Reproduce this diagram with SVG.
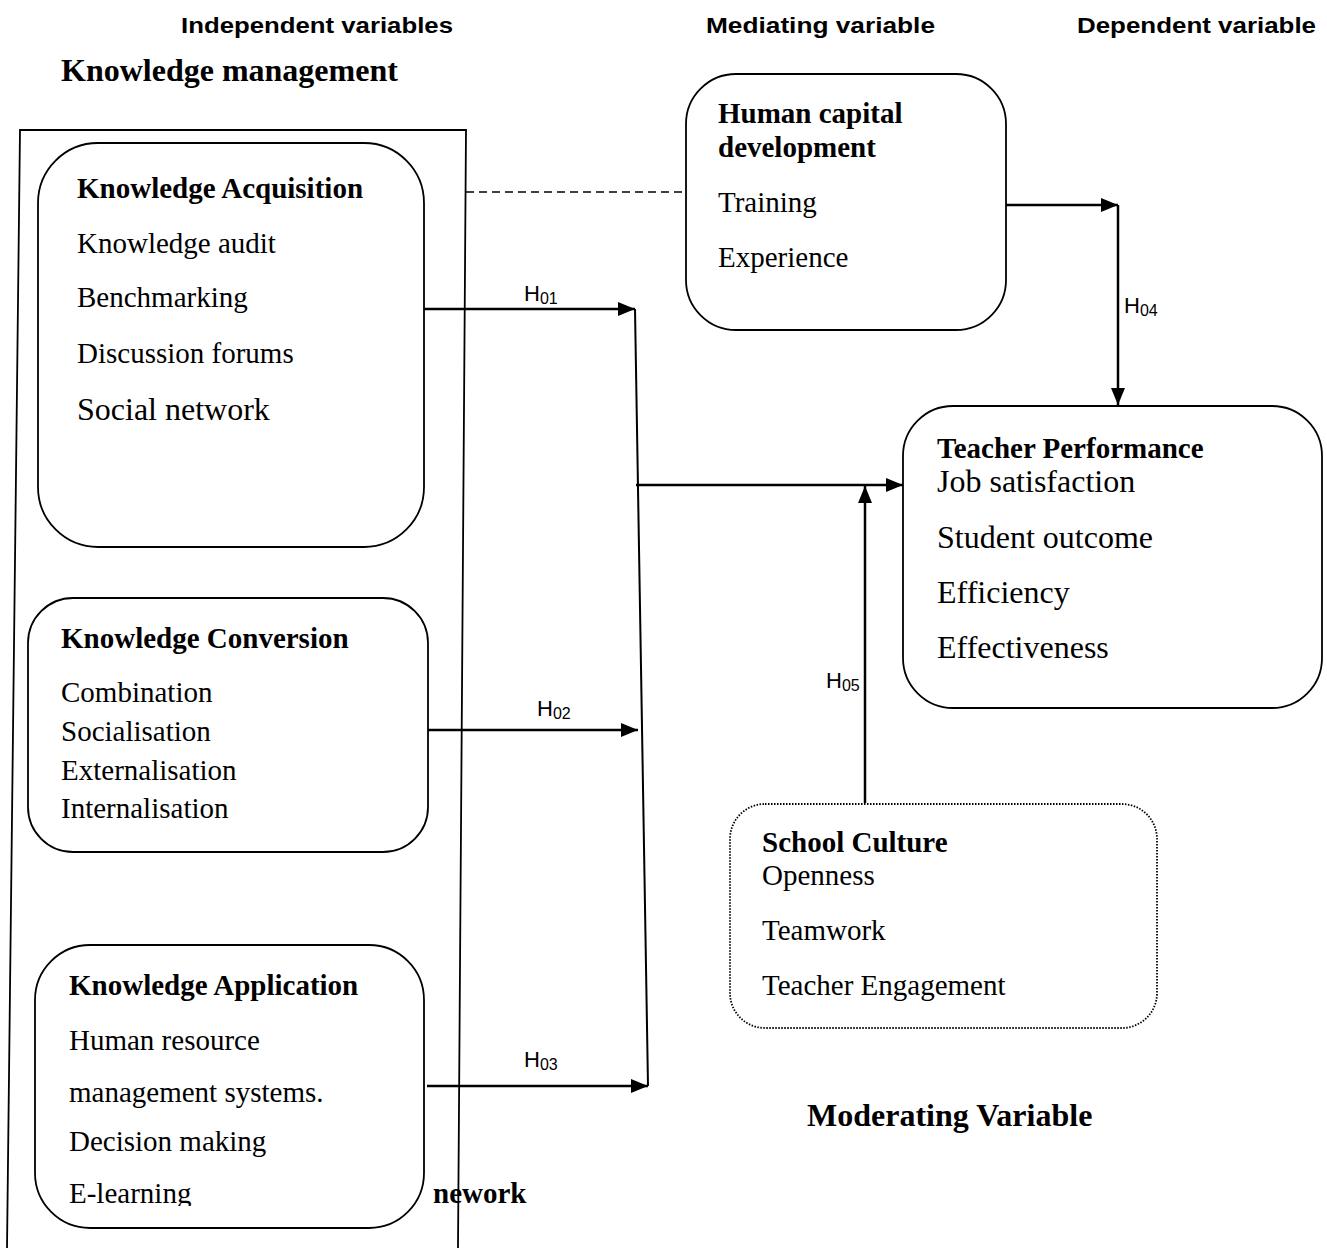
<svg xmlns="http://www.w3.org/2000/svg" width="1327" height="1250" viewBox="0 0 1327 1250">
<style>
.t{font-family:"Liberation Serif","Times New Roman",serif;font-size:29px;fill:#000}
.b{font-weight:bold}
.h{font-family:"Liberation Sans",Arial,sans-serif;font-weight:bold;font-size:22px;fill:#000}
.lab{font-family:"Liberation Sans",Arial,sans-serif;font-size:22px;fill:#000}
.sub{font-size:16px}
.box{fill:#fff;stroke:#000;stroke-width:1.8}
.dot{fill:#fff;stroke:#000;stroke-width:1.8;stroke-dasharray:1.5 1.5}
.frame{fill:none;stroke:#000;stroke-width:1.8}
.con{fill:none;stroke:#000;stroke-width:2.5}
.dash{fill:none;stroke:#000;stroke-width:1.5;stroke-dasharray:8 5}
</style>
<defs>
<marker id="ah" markerUnits="userSpaceOnUse" markerWidth="18" markerHeight="16" refX="17" refY="7" orient="auto">
<path d="M0,0 L17,7 L0,14 z" fill="#000"/>
</marker>
<clipPath id="clipA"><rect x="0" y="930" width="470" height="276"/></clipPath>
</defs>

<g id="headers">
<text class="h" x="181" y="33" textLength="272" lengthAdjust="spacingAndGlyphs">Independent variables</text>
<text class="h" x="706" y="33" textLength="229" lengthAdjust="spacingAndGlyphs">Mediating variable</text>
<text class="h" x="1077" y="33" textLength="239" lengthAdjust="spacingAndGlyphs">Dependent variable</text>
<text class="t b" x="61" y="81" style="font-size:32px">Knowledge management</text>
<text class="t b" x="807" y="1126" style="font-size:32px">Moderating Variable</text>
<text class="t b" x="433" y="1203">nework</text>
</g>

<g id="km-frame">
<path class="frame" d="M7,1248 L20,130 L466,130 L458,1248"/>
</g>

<g id="connectors">
<path class="dash" d="M466,192 L683,192"/>
<path class="con" d="M424,309 L635,309" marker-end="url(#ah)"/>
<path class="con" d="M428,730 L638,730" marker-end="url(#ah)"/>
<path class="con" d="M427,1086 L648,1086" marker-end="url(#ah)"/>
<path class="con" style="stroke-width:2" d="M635,309 L648,1086"/>
<path class="con" d="M636,485 L903,485" marker-end="url(#ah)"/>
<path class="con" d="M865,803 L865,486" marker-end="url(#ah)"/>
<path class="con" d="M1005,205 L1118,205" marker-end="url(#ah)"/>
<path class="con" d="M1118,205 L1118,405" marker-end="url(#ah)"/>
<text class="lab" x="524" y="301">H<tspan class="sub" dy="3">01</tspan></text>
<text class="lab" x="537" y="716">H<tspan class="sub" dy="3">02</tspan></text>
<text class="lab" x="524" y="1067">H<tspan class="sub" dy="3">03</tspan></text>
<text class="lab" x="1124" y="313">H<tspan class="sub" dy="3">04</tspan></text>
<text class="lab" x="826" y="688">H<tspan class="sub" dy="3">05</tspan></text>
</g>

<g id="knowledge-acquisition">
<rect class="box" x="38" y="143" width="386" height="404" rx="60" ry="60"/>
<text class="t b" x="77" y="198">Knowledge Acquisition</text>
<text class="t" x="77" y="253">Knowledge audit</text>
<text class="t" x="77" y="307">Benchmarking</text>
<text class="t" x="77" y="363">Discussion forums</text>
<text class="t" x="77" y="420" style="font-size:32px">Social network</text>
</g>

<g id="knowledge-conversion">
<rect class="box" x="28" y="598" width="400" height="254" rx="45" ry="45"/>
<text class="t b" x="61" y="648">Knowledge Conversion</text>
<text class="t" x="61" y="702">Combination</text>
<text class="t" x="61" y="741">Socialisation</text>
<text class="t" x="61" y="780">Externalisation</text>
<text class="t" x="61" y="818">Internalisation</text>
</g>

<g id="knowledge-application">
<rect class="box" x="35" y="945" width="389" height="283" rx="55" ry="55"/>
<text class="t b" x="69" y="995">Knowledge Application</text>
<text class="t" x="69" y="1050">Human resource</text>
<text class="t" x="69" y="1102">management systems.</text>
<text class="t" x="69" y="1151">Decision making</text>
<text class="t" x="69" y="1203" clip-path="url(#clipA)">E-learning</text>
</g>

<g id="human-capital">
<rect class="box" x="686" y="74" width="320" height="256" rx="50" ry="50"/>
<text class="t b" x="718" y="123">Human capital</text>
<text class="t b" x="718" y="157">development</text>
<text class="t" x="718" y="212">Training</text>
<text class="t" x="718" y="267">Experience</text>
</g>

<g id="teacher-performance">
<rect class="box" x="903" y="406" width="419" height="302" rx="50" ry="50"/>
<text class="t b" x="937" y="458">Teacher Performance</text>
<text class="t" x="937" y="492" style="font-size:32px">Job satisfaction</text>
<text class="t" x="937" y="548" style="font-size:32px">Student outcome</text>
<text class="t" x="937" y="603" style="font-size:32px">Efficiency</text>
<text class="t" x="937" y="658" style="font-size:32px">Effectiveness</text>
</g>

<g id="school-culture">
<rect class="dot" x="730" y="804" width="427" height="224" rx="35" ry="35"/>
<text class="t b" x="762" y="852">School Culture</text>
<text class="t" x="762" y="885">Openness</text>
<text class="t" x="762" y="940">Teamwork</text>
<text class="t" x="762" y="995">Teacher Engagement</text>
</g>
</svg>
